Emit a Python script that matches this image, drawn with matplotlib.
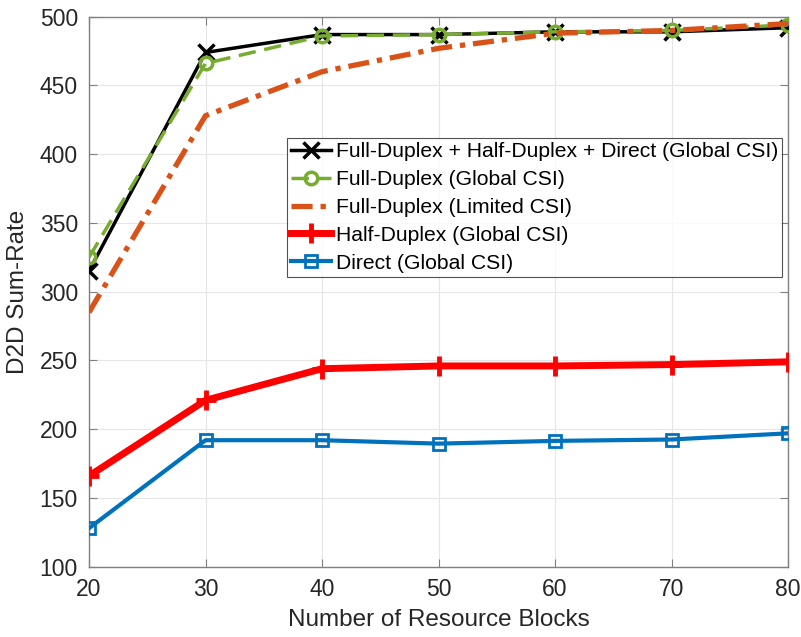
import numpy as np
import matplotlib
matplotlib.use("Agg")
import matplotlib.pyplot as plt

plt.rcParams['font.family'] = ['Liberation Sans', 'DejaVu Sans']

rb = [20, 30, 40, 50, 60, 70, 80]
fd_hd_direct = [315, 474, 487, 487, 489, 489, 492]
fd_global = [325, 466, 486, 487, 489, 490, 494]
fd_limited = [285, 428, 460, 477, 488, 490, 495]
hd_global = [166, 221, 244, 246, 246, 247, 249]
direct_global = [128, 192, 192, 189.5, 191.5, 192.5, 197]

labels = ["Full-Duplex + Half-Duplex + Direct (Global CSI)",
          "Full-Duplex (Global CSI)",
          "Full-Duplex (Limited CSI)",
          "Half-Duplex (Global CSI)",
          "Direct (Global CSI)"]

fig = plt.figure(figsize=(8.01, 6.37), dpi=100)
ax = fig.add_axes([89 / 801, 1 - 566.7 / 637, (788 - 89) / 801, (566.7 - 16.7) / 637])

ax.plot(rb, fd_hd_direct, color='black', lw=2.5, marker='x', ms=11, mew=2.5,
        label=labels[0], zorder=5)
ax.plot(rb, fd_global, color='#77AC30', lw=2.5, ls=(0, (5, 2.5)), marker='o', ms=9,
        mew=2.5, mfc='none', label=labels[1], zorder=6)
ax.plot(rb, fd_limited, color='#D95319', lw=3.8, ls=(0, (4, 1.5, 1, 1.5)),
        label=labels[2], zorder=7)
ax.plot(rb, hd_global, color='#FF0000', lw=5, marker='+', ms=14, mew=3.5,
        label=labels[3], zorder=4)
ax.plot(rb, direct_global, color='#0072BD', lw=3, marker='s', ms=8, mew=2,
        mfc='none', label=labels[4], zorder=4)

ax.set_xlim(20, 80)
ax.set_ylim(100, 500)
ax.set_xticks(rb)
ax.set_yticks(np.arange(100, 501, 50))
ax.grid(True, color='#e6e6e6', lw=0.8)
ax.set_axisbelow(True)
for s in ax.spines.values():
    s.set_color('#808080')
    s.set_linewidth(1)
ax.tick_params(direction='in', length=6, colors='#808080', labelcolor='#262626',
               labelsize=16.5, top=True, right=True, pad=8)
ax.set_xlabel("Number of Resource Blocks", fontsize=17.5, color='#262626', labelpad=6)
ax.set_ylabel("D2D Sum-Rate", fontsize=17.5, color='#262626', labelpad=8)

leg = ax.legend(loc='upper left', bbox_to_anchor=((287 - 89) / 699, 1 - (138 - 16.7) / 550),
                fontsize=15.2, frameon=True, fancybox=False, edgecolor='#262626',
                handlelength=1.9, handletextpad=0.2, borderpad=0.2, labelspacing=0.42,
                borderaxespad=0)
leg.get_frame().set_linewidth(0.8)

fig.savefig("out.png", dpi=100)
